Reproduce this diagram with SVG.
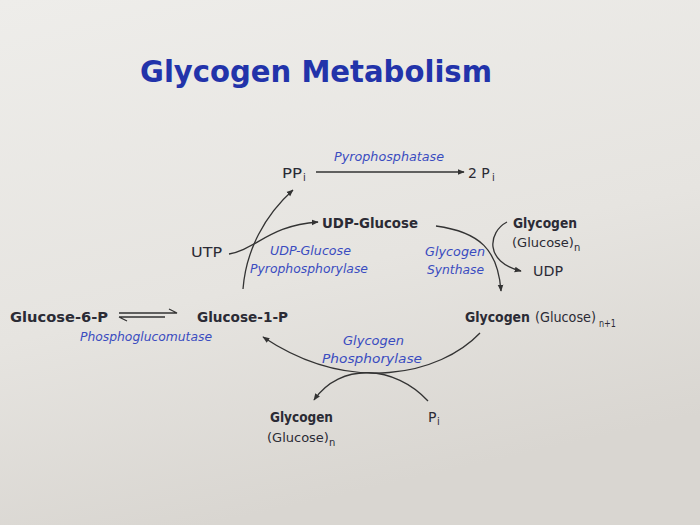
<svg xmlns="http://www.w3.org/2000/svg" width="700" height="525" viewBox="0 0 700 525">
<defs>
<linearGradient id="bg" x1="0" y1="0" x2="0.3" y2="1">
<stop offset="0" stop-color="#EEEDEA"/>
<stop offset="0.6" stop-color="#E6E4E0"/>
<stop offset="1" stop-color="#D9D6D1"/>
</linearGradient>
<marker id="ah" viewBox="0 0 10 10" refX="9" refY="5" markerWidth="7" markerHeight="7" markerUnits="userSpaceOnUse" orient="auto">
<path d="M0,1 L10,5 L0,9 Z" fill="#333"/>
</marker>
</defs>
<style>
text{font-family:"DejaVu Sans","Noto Sans",sans-serif;fill:#2b2b35}
.t{font-size:31px;font-weight:bold;fill:#2233AA}
.n{font-size:14px}
.g{font-size:13px}
.b{font-size:14px;font-weight:bold}
.e{font-size:13px;font-style:italic;fill:#3a4cc0}
.s{font-size:10px;fill:#2b2b35}
.ln{fill:none;stroke:#333;stroke-width:1.3}
</style>
<rect width="700" height="525" fill="url(#bg)"/>
<g id="title"><text class="t" x="140" y="82" textLength="352" lengthAdjust="spacingAndGlyphs">Glycogen Metabolism</text></g>

<g id="connectors">
<path class="ln" d="M316,172 L464,172" marker-end="url(#ah)"/>
<path class="ln" d="M243,289 C246,250 265,215 293,190" marker-end="url(#ah)"/>
<path class="ln" d="M229,254 C255,250 270,225 318,222" marker-end="url(#ah)"/>
<path class="ln" d="M436,226 C480,232 498,250 501,291" marker-end="url(#ah)"/>
<path class="ln" d="M507,222 C488,232 484,262 521,271" marker-end="url(#ah)"/>
<path class="ln" d="M480,333 C440,375 350,395 263,337" marker-end="url(#ah)"/>
<path class="ln" d="M428,401 C395,365 340,362 314,400" marker-end="url(#ah)"/>
<path class="ln" d="M119,313 L177,313 L169,309"/>
<path class="ln" d="M119,317 L165,317 M119,317 L127,321"/>
</g>

<g id="ppi"><text class="n" x="282" y="178" textLength="20" lengthAdjust="spacingAndGlyphs">PP</text><text class="s" x="303" y="181">i</text></g>
<g id="pyrophosphatase"><text class="e" x="334" y="161" textLength="110" lengthAdjust="spacingAndGlyphs">Pyrophosphatase</text></g>
<g id="twopi"><text class="n" x="468" y="178">2 P</text><text class="s" x="492" y="181">i</text></g>
<g id="udpglucose"><text class="b" x="322" y="228" textLength="96" lengthAdjust="spacingAndGlyphs">UDP-Glucose</text></g>
<g id="utp"><text class="n" x="191" y="257" textLength="31" lengthAdjust="spacingAndGlyphs">UTP</text></g>
<g id="ugpp">
<text class="e" x="270" y="255" textLength="81" lengthAdjust="spacingAndGlyphs">UDP-Glucose</text>
<text class="e" x="250" y="273" textLength="118" lengthAdjust="spacingAndGlyphs">Pyrophosphorylase</text>
</g>
<g id="synthase">
<text class="e" x="425" y="256" textLength="60" lengthAdjust="spacingAndGlyphs">Glycogen</text>
<text class="e" x="427" y="274" textLength="57" lengthAdjust="spacingAndGlyphs">Synthase</text>
</g>
<g id="glycogen-n-top">
<text class="b" x="513" y="228" textLength="64" lengthAdjust="spacingAndGlyphs">Glycogen</text>
<text class="g" x="512" y="247">(Glucose)<tspan class="s" dy="4">n</tspan></text>
</g>
<g id="udp"><text class="n" x="533" y="276" textLength="30" lengthAdjust="spacingAndGlyphs">UDP</text></g>
<g id="g6p"><text class="b" x="10" y="322" textLength="98" lengthAdjust="spacingAndGlyphs">Glucose-6-P</text></g>
<g id="g1p"><text class="b" x="197" y="322" textLength="91" lengthAdjust="spacingAndGlyphs">Glucose-1-P</text></g>
<g id="pgm"><text class="e" x="80" y="341" textLength="132" lengthAdjust="spacingAndGlyphs">Phosphoglucomutase</text></g>
<g id="glycogen-n1">
<text class="b" x="465" y="322" textLength="65" lengthAdjust="spacingAndGlyphs">Glycogen</text>
<text class="n" x="535" y="322" textLength="61" lengthAdjust="spacingAndGlyphs">(Glucose)</text>
<text class="s" x="599" y="327" textLength="17" lengthAdjust="spacingAndGlyphs">n+1</text>
</g>
<g id="phosphorylase">
<text class="e" x="343" y="345" textLength="61" lengthAdjust="spacingAndGlyphs">Glycogen</text>
<text class="e" x="322" y="363" textLength="100" lengthAdjust="spacingAndGlyphs">Phosphorylase</text>
</g>
<g id="glycogen-n-bottom">
<text class="b" x="270" y="422" textLength="63" lengthAdjust="spacingAndGlyphs">Glycogen</text>
<text class="g" x="267" y="442">(Glucose)<tspan class="s" dy="4">n</tspan></text>
</g>
<g id="pi-bottom"><text class="n" x="428" y="422">P</text><text class="s" x="437" y="425">i</text></g>
</svg>
